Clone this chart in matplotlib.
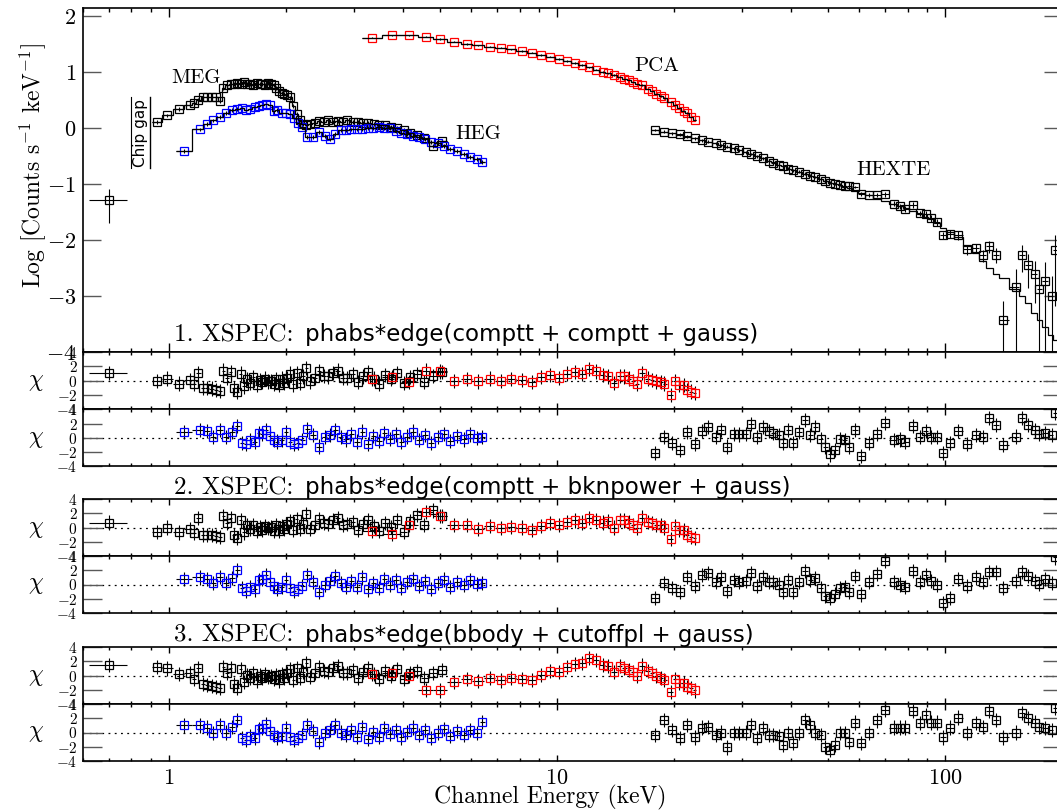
import numpy as np
import matplotlib.pyplot as plt
from matplotlib.lines import Line2D
from matplotlib.ticker import LogLocator, NullFormatter

plt.rcParams['mathtext.fontset'] = 'cm'
plt.rcParams['axes.linewidth'] = 1.2

W, H = 1057, 811

# ---- Chandra MEG (first order), keV / log10 counts s^-1 keV^-1 ----
meg_low_energy = [0.70]
meg_low_bin = [0.62, 0.78]
meg_low_lograte = [-1.29]
meg_low_relerr = [0.6]
meg_low_resid = [[1.1], [0.7], [1.5]]

meg_energy = [0.93, 0.99, 1.06, 1.13, 1.16, 1.19, 1.22, 1.25, 1.29,
              1.32, 1.35, 1.38, 1.41, 1.44, 1.47, 1.50, 1.53, 1.56, 1.59,
              1.62, 1.65, 1.68, 1.71, 1.74, 1.77, 1.80, 1.83, 1.86, 1.89,
              1.92, 1.95, 1.98, 2.01, 2.05, 2.09, 2.13, 2.17, 2.21, 2.26,
              2.31, 2.37, 2.43, 2.50, 2.57, 2.64, 2.72, 2.80, 2.88, 2.97,
              3.06, 3.16, 3.26, 3.37, 3.48, 3.60, 3.73, 3.87, 4.02, 4.18,
              4.35, 4.55, 4.78, 5.05]
meg_lograte = [0.12, 0.23, 0.34, 0.41, 0.45, 0.50, 0.55, 0.56, 0.56,
               0.55, 0.48, 0.72, 0.77, 0.79, 0.80, 0.81, 0.80, 0.82, 0.79,
               0.80, 0.78, 0.81, 0.79, 0.80, 0.78, 0.81, 0.79, 0.77, 0.72,
               0.66, 0.63, 0.62, 0.60, 0.55, 0.40, 0.25, 0.15, 0.08, 0.05,
               0.07, 0.10, 0.13, 0.12, 0.14, 0.12, 0.13, 0.12, 0.14, 0.12,
               0.11, 0.10, 0.09, 0.08, 0.06, 0.05, 0.02, 0.00, -0.03, -0.08,
               -0.12, -0.18, -0.32, -0.22]

# ---- Chandra HEG ----
heg_energy = [1.09, 1.20, 1.25, 1.30, 1.35, 1.40, 1.45, 1.50, 1.54, 1.58,
              1.62, 1.66, 1.70, 1.74, 1.78, 1.82, 1.86, 1.90, 1.95, 2.00,
              2.05, 2.10, 2.15, 2.20, 2.27, 2.35, 2.43, 2.52, 2.60, 2.68,
              2.77, 2.86, 2.95, 3.05, 3.15, 3.25, 3.36, 3.47, 3.59, 3.71,
              3.84, 3.97, 4.11, 4.26, 4.41, 4.57, 4.74, 4.92, 5.11, 5.31,
              5.52, 5.74, 5.97, 6.20, 6.42]
heg_lograte = [-0.41, -0.02, 0.07, 0.14, 0.20, 0.28, 0.33, 0.34, 0.37, 0.33,
               0.35, 0.38, 0.40, 0.42, 0.44, 0.41, 0.30, 0.32, 0.28, 0.27,
               0.25, 0.18, 0.10, 0.02, -0.16, -0.16, -0.06, -0.14, -0.20, -0.10,
               -0.03, -0.03, -0.02, -0.02, -0.01, 0.00, 0.01, 0.02, 0.01, 0.00,
               -0.05, -0.08, -0.10, -0.13, -0.16, -0.20, -0.24, -0.27, -0.32, -0.37,
               -0.41, -0.46, -0.51, -0.55, -0.60]

# ---- RXTE PCA ----
pca_energy = [3.33, 3.75, 4.16, 4.60, 4.99, 5.43, 5.85, 6.25, 6.70, 7.15,
              7.60, 8.10, 8.60, 9.10, 9.60, 10.1, 10.6, 11.1, 11.6, 12.1,
              12.6, 13.1, 13.5, 14.0, 14.5, 14.9, 15.3, 15.7, 16.1, 16.5,
              17.1, 17.6, 18.0, 18.5, 18.9, 19.6, 20.1, 20.6, 21.2, 21.6,
              22.1, 22.6]
pca_lograte = [1.62, 1.66, 1.66, 1.64, 1.60, 1.55, 1.51, 1.48, 1.46, 1.44,
               1.41, 1.38, 1.35, 1.31, 1.28, 1.24, 1.20, 1.17, 1.13, 1.09,
               1.05, 1.01, 0.98, 0.95, 0.91, 0.88, 0.86, 0.83, 0.80, 0.77,
               0.71, 0.66, 0.62, 0.58, 0.54, 0.47, 0.42, 0.37, 0.31, 0.27,
               0.21, 0.15]

# ---- RXTE HEXTE ----
hexte_energy = [17.9, 18.8, 19.8, 20.7, 21.6, 22.6, 23.6, 24.5, 25.6, 26.5,
                27.4, 28.5, 29.5, 30.6, 31.5, 32.7, 33.9, 35.1, 36.1, 37.2,
                38.3, 39.4, 40.5, 41.9, 43.5, 44.9, 46.2, 47.9, 49.1, 50.5,
                52.0, 53.6, 55.1, 56.5, 58.5, 60.7, 63.6, 66.8, 70.0, 73.6,
                76.4, 79.0, 82.8, 86.0, 89.0, 92.0, 95.5, 98.5, 103, 108,
                114, 120, 125, 130, 135, 141, 152, 158, 163, 170,
                175, 181, 188, 192]
hexte_lograte = [-0.03, -0.06, -0.09, -0.11, -0.14, -0.18, -0.21, -0.24, -0.27, -0.30,
                 -0.33, -0.36, -0.39, -0.43, -0.46, -0.50, -0.54, -0.58, -0.62, -0.65,
                 -0.68, -0.72, -0.75, -0.78, -0.81, -0.85, -0.87, -0.91, -0.94, -0.97,
                 -0.99, -1.01, -1.03, -1.04, -1.05, -1.18, -1.19, -1.19, -1.18, -1.35,
                 -1.39, -1.44, -1.37, -1.52, -1.53, -1.61, -1.68, -1.91, -1.89, -1.91,
                 -2.16, -2.14, -2.27, -2.11, -2.26, -3.43, -2.84, -2.27, -2.45, -2.60,
                 -2.88, -2.73, -3.00, -2.18]
hexte_model = [-0.03, -0.06, -0.09, -0.12, -0.15, -0.18, -0.21, -0.24, -0.27, -0.30,
               -0.33, -0.36, -0.39, -0.43, -0.46, -0.50, -0.54, -0.58, -0.61, -0.65,
               -0.68, -0.72, -0.75, -0.78, -0.82, -0.85, -0.88, -0.91, -0.94, -0.97,
               -1.00, -1.02, -1.05, -1.07, -1.10, -1.15, -1.20, -1.25, -1.30, -1.35,
               -1.39, -1.43, -1.48, -1.53, -1.58, -1.63, -1.70, -1.78, -1.86, -1.95,
               -2.10, -2.23, -2.38, -2.50, -2.60, -2.68, -2.88, -3.00, -3.12, -3.30,
               -3.43, -3.55, -3.70, -3.78]
hexte_relerr = [0.06] * 35 + [0.08, 0.08, 0.09, 0.09, 0.10, 0.10, 0.11, 0.11, 0.12, 0.12,
                              0.13, 0.14, 0.15, 0.16, 0.18, 0.20, 0.20, 0.25, 0.25, 0.30,
                              1.2, 1.1, 0.5, 0.6, 0.7, 1.0, 1.2, 1.3, 0.9]

# ---- residuals (chi) for the three fits ----
meg_resid = [
    [0.0, 0.3, -0.4, 0.1, -0.4, 1.1, -1.0, -1.0, -1.1,
     -1.3, -1.4, 1.4, 0.4, 1.2, -1.0, -1.6, 1.0, -0.8, 0.2,
     -0.3, 0.5, -0.6, 0.1, -0.2, 0.3, -0.1, 0.0, -0.4, 0.2,
     -0.6, 0.3, -0.3, 0.4, 1.0, -0.5, 1.1, -0.3, 0.6, 1.8,
     -0.1, 0.4, 1.3, 0.7, 0.6, 1.1, 1.4, 0.4, 0.4, 0.9,
     -0.2, 0.6, 1.2, 0.3, -0.4, 0.8, 0.2, 1.1, -0.3, 0.5,
     0.9, -0.2, 0.7, 1.2],
    [-0.6, 0.0, -0.7, -0.2, -0.8, 1.3, -1.0, -1.1, -1.1,
     -1.2, -1.3, 1.6, 0.6, 1.3, -1.1, -1.5, 1.0, -0.7, 0.3,
     -0.2, 0.4, -0.5, 0.1, -0.3, 0.2, -0.1, 0.1, -0.5, 0.3,
     -0.5, 0.2, -0.2, 0.5, 0.9, -0.4, 1.2, -0.2, 0.5, 1.9,
     -0.2, 0.3, 1.2, 0.6, 0.5, 1.0, 1.3, 0.3, 0.5, 0.8,
     -0.3, 0.5, 1.1, 0.2, -0.5, 0.6, 0.1, 1.0, -0.6, 0.9,
     1.8, 0.4, 2.4, 1.6],
    [1.2, 1.0, 0.2, 0.4, -0.5, 1.0, -1.2, -1.3, -1.5,
     -1.6, -1.7, 1.2, 0.3, 1.0, -1.2, -1.8, 0.9, -0.9, 0.1,
     -0.4, 0.4, -0.7, 0.0, -0.3, 0.2, -0.2, -0.1, -0.5, 0.1,
     -0.7, 0.2, -0.4, 0.3, 0.9, -0.6, 1.0, -0.4, 0.5, 1.7,
     -0.2, 0.3, 1.2, 0.6, 0.5, 1.0, 1.3, 0.3, 0.3, 0.8,
     -0.3, 0.5, 1.1, 0.2, -0.5, 0.6, 0.0, 0.9, -0.5, 0.3,
     0.6, -0.4, 0.4, 0.8],
]
pca_resid = [
    [0.3, 0.5, -0.2, 1.4, 1.3, 0.0, 0.2, -0.1, 0.3, 0.0,
     0.2, 0.1, -0.2, 0.5, 0.8, 0.4, 1.0, 1.2, 0.9, 1.6,
     1.3, 0.8, 0.6, -0.3, 0.7, 0.6, 0.3, 0.0, -0.4, 1.1,
     0.3, 0.1, -0.1, -0.2, -0.4, -2.0, -0.1, -0.6, -0.6, -1.3,
     -1.5, -1.7],
    [-0.5, -0.9, 0.3, 2.2, 1.6, 0.4, 0.3, -0.2, 0.2, -0.1,
     0.1, 0.0, -0.3, 0.2, 0.6, 0.3, 0.8, 1.0, 0.7, 1.3,
     1.1, 0.7, 0.9, 0.0, 1.1, 1.0, 0.7, 0.4, 0.0, 1.4,
     0.8, 0.6, 0.4, 0.3, 0.0, -1.6, 0.2, -0.4, -0.4, -1.0,
     -1.3, -1.5],
    [0.2, 0.4, -0.1, -2.0, -2.1, -0.9, -0.5, -0.8, -0.4, -0.7,
     -0.3, -0.5, -0.6, 0.1, 0.6, 0.5, 1.2, 1.6, 1.8, 2.5,
     2.2, 1.5, 1.3, 0.5, 1.3, 1.1, 0.8, 0.5, 0.0, 1.4,
     0.6, 0.3, 0.0, -0.3, -0.6, -2.3, -0.5, -1.0, -1.1, -1.6,
     -1.8, -2.1],
]
heg_resid = [
    [0.8, 1.1, 1.0, 0.1, 1.1, 0.1, 0.8, 1.7, -0.7, -0.8,
     -0.3, -0.6, 0.7, 0.6, 1.1, 0.3, -0.3, -0.5, -0.3, 0.8,
     -0.6, -0.8, -0.7, -0.3, 1.2, 0.4, -1.2, 0.1, 0.4, 1.1,
     0.1, -0.2, 0.6, -0.5, 0.9, -0.8, 0.3, -0.4, 0.7, -0.1,
     0.5, -0.6, 0.2, 0.9, -0.3, 0.4, -0.7, 0.1, 0.6, -0.4,
     0.3, -0.2, 0.5, 0.0, 0.1],
    [0.8, 1.0, 0.8, 0.2, 1.1, 0.2, 0.9, 2.0, -0.5, -0.9,
     -0.4, -0.7, 0.6, 0.8, 1.3, 0.4, -0.2, -0.6, -0.4, 0.7,
     -0.5, -0.9, -0.6, -0.2, 1.3, 0.3, -1.1, 0.0, 0.5, 1.2,
     0.2, -0.3, 0.5, -0.4, 1.0, -0.7, 0.2, -0.5, 0.8, 0.0,
     0.6, -0.5, 0.3, 0.8, -0.2, 0.5, -0.6, 0.2, 0.7, -0.3,
     0.4, -0.1, 0.6, 0.1, 0.2],
    [1.0, 1.0, 0.7, -0.1, 1.1, 0.0, 0.8, 1.8, -0.8, -1.0,
     -0.5, -0.8, 0.5, 0.7, 1.2, 0.2, -0.4, -0.7, -0.5, 0.6,
     -0.7, -1.0, -0.8, -0.4, 1.1, 0.2, -1.3, -0.1, 0.3, 1.0,
     0.0, -0.4, 0.4, -0.6, 0.8, -0.9, 0.1, -0.6, 0.6, -0.2,
     0.4, -0.7, 0.1, 0.7, -0.4, 0.3, -0.8, 0.0, 0.5, -0.5,
     0.2, -0.3, 0.4, -0.1, 1.5],
]
hexte_resid = [
    [-2.1, 0.1, -0.7, -1.7, 0.8, -0.8, 1.0, 1.5, 0.1, 1.1,
     -1.2, 0.6, 0.5, 0.6, 2.0, 0.1, 1.5, 1.0, 0.7, 0.4,
     -0.7, 1.1, -0.7, 0.8, 2.5, 0.4, 1.5, -0.2, -1.3, -2.3,
     -1.7, -0.2, -0.3, -1.3, 1.1, -2.5, -0.7, 0.6, 2.1, -0.3,
     -0.2, -0.6, 1.7, 0.1, 1.0, 0.1, 0.1, -2.1, -0.7, 1.0,
     -0.8, 0.4, 0.1, 2.8, 1.8, -1.0, 0.2, 2.8, 1.8, 1.1,
     0.6, 0.7, 0.4, 3.5],
    [-1.9, 0.2, -0.5, -1.0, 1.1, -0.2, 1.3, 1.6, 0.3, 1.0,
     -0.9, 0.6, 0.3, 0.5, 1.6, -0.2, 1.0, 0.4, 0.3, 0.0,
     -1.0, 0.6, -1.1, 0.3, 1.9, 0.6, 0.9, -0.5, -1.6, -1.9,
     -1.3, -0.5, -0.4, -1.1, 1.2, -1.4, 0.3, 1.5, 3.3, 0.4,
     0.0, -0.3, 1.9, 0.3, 1.3, 0.5, -0.1, -2.6, -1.9, 0.8,
     -0.2, 1.0, 0.3, 1.8, 1.7, -0.5, 0.5, 1.8, 1.2, 0.5,
     0.1, 0.8, 0.2, 3.8],
    [-0.3, 1.8, 0.3, -0.8, 1.1, -0.7, 0.7, 0.8, -0.4, 0.0,
     -2.1, -0.1, -0.1, 0.0, 1.1, -0.8, 0.6, -0.4, -0.4, -0.5,
     -1.8, -0.1, -1.5, -0.1, 1.7, 1.0, 0.0, -0.4, -2.0, -2.5,
     -1.7, -0.1, -0.1, -1.3, 1.4, -1.5, -0.1, 1.7, 3.2, 0.7,
     0.7, 0.7, 3.0, 1.3, 2.4, 1.4, 1.4, -0.7, 0.7, 2.1,
     -0.1, 1.3, 0.8, 3.0, 1.8, -0.7, 0.0, 2.7, 2.0, 1.4,
     0.8, 0.6, 0.3, 3.4],
]
fit_prefix = ['1. XSPEC:', '2. XSPEC:', '3. XSPEC:']
fit_models = ['phabs*edge(comptt + comptt + gauss)',
              'phabs*edge(comptt + bknpower + gauss)',
              'phabs*edge(bbody + cutoffpl + gauss)']


def fx(px):
    return px / W


def fy(py):
    return 1 - py / H


def bin_edges(energy):
    e = np.asarray(energy, dtype=float)
    mids = np.sqrt(e[:-1] * e[1:])
    return np.concatenate([[e[0] ** 2 / mids[0]], mids, [e[-1] ** 2 / mids[-1]]])


def draw_points(ax, energy, y, lo, hi, color, edges):
    e = np.asarray(energy, dtype=float)
    y = np.asarray(y, dtype=float)
    ax.errorbar(e, y, yerr=[y - lo, hi - y], xerr=[e - edges[:-1], edges[1:] - e],
                fmt='none', ecolor='k', elinewidth=0.8, capsize=0, zorder=3)
    ax.plot(e, y, ls='none', marker='s', ms=6, mfc='none', mec=color, mew=0.9, zorder=4)


def log_errors(y, relerr):
    y = np.asarray(y, dtype=float)
    r = np.asarray(relerr, dtype=float)
    lo = y + np.log10(np.clip(1 - r, 1e-4, None))
    hi = y + np.log10(1 + r)
    return lo, hi


def style_x(ax, major_len, minor_len, labels=False):
    ax.set_xscale('log')
    ax.set_xlim(0.6, 200)
    ax.set_xticks([1, 10, 100])
    ax.set_xticklabels(['$1$', '$10$', '$100$'] if labels else [])
    ax.xaxis.set_minor_locator(LogLocator(base=10, subs=np.arange(2, 10), numticks=12))
    ax.xaxis.set_minor_formatter(NullFormatter())
    ax.tick_params(axis='x', which='major', direction='in', length=major_len, width=1,
                   top=True, bottom=True, labelsize=16, pad=5)
    ax.tick_params(axis='x', which='minor', direction='in', length=minor_len, width=1,
                   top=True, bottom=True)


def panel(top, bottom):
    return fig.add_axes([fx(83), fy(bottom), fx(1062) - fx(83), (bottom - top) / H])


fig = plt.figure(figsize=(W / 100, H / 100), dpi=100)

# ---- spectrum panel ----
ax = panel(8, 352)
style_x(ax, 6.5, 3.2)
ax.set_ylim(-4, 2.15)
ax.set_yticks([-4, -3, -2, -1, 0, 1, 2])
ax.set_yticklabels(['$-4$', '$-3$', '$-2$', '$-1$', '$0$', '$1$', '$2$'])
ax.tick_params(axis='y', direction='in', length=13, width=1, color='0.35',
               right=True, labelsize=16, pad=5)

lo, hi = log_errors(meg_low_lograte, meg_low_relerr)
draw_points(ax, meg_low_energy, meg_low_lograte, lo, hi, 'k', np.array(meg_low_bin))

series = [
    (meg_energy, meg_lograte, [0.08] * len(meg_energy), meg_lograte, 'k'),
    (heg_energy, heg_lograte, [0.08] * len(heg_energy), heg_lograte, 'b'),
    (pca_energy, pca_lograte, [0.03] * len(pca_energy), pca_lograte, 'r'),
    (hexte_energy, hexte_lograte, hexte_relerr, hexte_model, 'k'),
]
for energy, rate, relerr, model, color in series:
    edges = bin_edges(energy)
    lo, hi = log_errors(rate, relerr)
    draw_points(ax, energy, rate, lo, hi, color, edges)
    ax.stairs(model, edges, baseline=None, color='k', lw=0.9, zorder=5)

for name, e, v in [('MEG', 1.17, 0.89), ('HEG', 6.25, -0.11),
                   ('PCA', 18.1, 1.11), ('HEXTE', 73.6, -0.75)]:
    ax.text(e, v, name, family='cmr10', fontsize=15, ha='center', va='center')

# chip gap marker
fig.text(fx(140), fy(133), 'Chip gap', rotation=90, ha='center', va='center',
         family='DejaVu Sans', fontsize=11)
fig.add_artist(Line2D([fx(149.5), fx(149.5)], [fy(97), fy(168)], color='k', lw=1))
fig.add_artist(Line2D([fx(130.5), fx(130.5)], [fy(97), fy(168)], color='k', lw=0.8))

# ---- residual panels ----
panel_rows = [(352, 409.5, 466.5, 341), (499, 556, 613, 494), (647, 704, 761, 642)]
for k, (top, mid, bottom, title_y) in enumerate(panel_rows):
    upper = panel(top, mid)
    lower = panel(mid, bottom)
    for rax in (upper, lower):
        style_x(rax, 4.5, 2.3, labels=(k == 2 and rax is lower))
        rax.set_ylim(-4, 4)
        rax.set_yticks([-4, -2, 0, 2, 4])
        rax.set_yticklabels(['$-4$', '$-2$', '$0$', '$2$', '$4$'])
        rax.tick_params(axis='y', direction='in', length=14, width=1, color='0.35',
                        right=True, labelsize=11, pad=4)
        rax.axhline(0, color='k', lw=0.9, ls=(0, (1.5, 3.5)), zorder=1)

    r = np.asarray(meg_low_resid[k])
    draw_points(upper, meg_low_energy, r, r - 1, r + 1, 'k', np.array(meg_low_bin))
    for rax, energy, resid, color in [(upper, meg_energy, meg_resid[k], 'k'),
                                      (upper, pca_energy, pca_resid[k], 'r'),
                                      (lower, heg_energy, heg_resid[k], 'b'),
                                      (lower, hexte_energy, hexte_resid[k], 'k')]:
        r = np.asarray(resid, dtype=float)
        draw_points(rax, energy, r, r - 1, r + 1, color, bin_edges(energy))

    for zero_px in ((top + mid) / 2, (mid + bottom) / 2):
        fig.text(fx(36), fy(zero_px), r'$\chi$', fontsize=17, ha='center', va='center')

    fig.text(fx(293), fy(title_y), fit_prefix[k], family='cmr10', fontsize=18,
             ha='right', va='baseline')
    fig.text(fx(305), fy(title_y), fit_models[k], family='DejaVu Sans', fontsize=16.5,
             ha='left', va='baseline')

fig.text(fx(33), fy(165), r'Log [Counts s$^{-1}$ keV$^{-1}$]', family='cmr10',
         fontsize=17, rotation=90, ha='center', va='center')
fig.text(fx(550), fy(797), 'Channel Energy (keV)', family='cmr10', fontsize=17,
         ha='center', va='center')

fig.savefig('out.png', dpi=100)
